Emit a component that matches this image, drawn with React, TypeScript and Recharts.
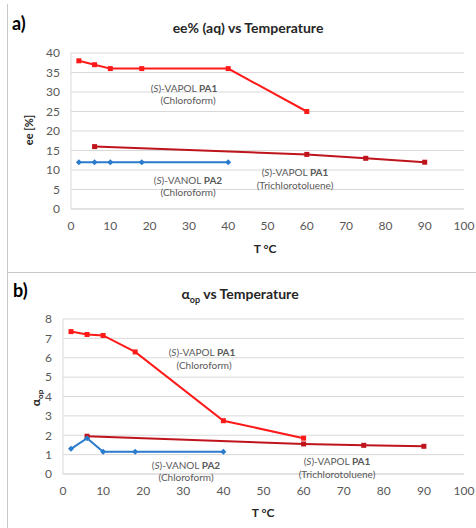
import React from 'react';
import { LineChart, Line, XAxis, YAxis, CartesianGrid } from 'recharts';

// temperatures (°C)
const tVapolChl = [2, 6, 10, 18, 40, 60];
const tVapolTcl = [6, 60, 75, 90];
const tVanolChl = [2, 6, 10, 18, 40];

// a) ee% (aq)
const eeVapolChl = [38, 37, 36, 36, 36, 25];
const eeVapolTcl = [16, 14, 13, 12];
const eeVanolChl = [12, 12, 12, 12, 12];

// b) alpha op
const aVapolChl = [7.35, 7.2, 7.15, 6.3, 2.75, 1.85];
const aVapolTcl = [1.95, 1.55, 1.48, 1.43];
const aVanolChl = [1.3, 1.85, 1.15, 1.15, 1.15];

const xTicks = [0, 10, 20, 30, 40, 50, 60, 70, 80, 90, 100];
const eeTicks = [0, 5, 10, 15, 20, 25, 30, 35, 40];
const alphaTicks = [0, 1, 2, 3, 4, 5, 6, 7, 8];

const RED = '#FF1A1A';
const DARK_RED = '#C0141C';
const BLUE = '#2A7BCB';
const GRID = '#D9D9D9';
const FONT = 'Lato, "Open Sans", sans-serif';

const zip = (xs: number[], ys: number[]) => xs.map((t, i) => ({ t, v: ys[i] }));

const Square = (props: any) => {
  const { cx, cy, fill } = props;
  if (cx == null || cy == null) return null;
  return <rect key={`s-${cx}-${cy}`} x={cx - 2.5} y={cy - 2.5} width={5} height={5} fill={fill} />;
};

const Diamond = (props: any) => {
  const { cx, cy, fill } = props;
  if (cx == null || cy == null) return null;
  return (
    <path
      key={`d-${cx}-${cy}`}
      d={`M${cx},${cy - 3}L${cx + 3},${cy}L${cx},${cy + 3}L${cx - 3},${cy}Z`}
      fill={fill}
    />
  );
};

const tickStyle = { fill: '#595959', fontSize: 12, fontFamily: FONT };

function Note({ x, y, children }: { x: number; y: number; children: React.ReactNode }) {
  return (
    <div
      style={{
        position: 'absolute',
        left: x - 60,
        top: y - 6,
        width: 120,
        textAlign: 'center',
        fontSize: 10,
        lineHeight: '11px',
        color: '#595959',
        fontFamily: FONT,
        whiteSpace: 'nowrap',
      }}
    >
      {children}
    </div>
  );
}

function Panel({
  height,
  marginTop,
  marginLeft,
  marginBottom,
  yTicks,
  yMax,
  chl,
  tcl,
  vanol,
}: any) {
  return (
    <LineChart
      width={476}
      height={height}
      margin={{ top: marginTop, right: 12, left: marginLeft, bottom: marginBottom }}
    >
      <CartesianGrid vertical={false} stroke={GRID} />
      <XAxis
        type="number"
        dataKey="t"
        domain={[0, 100]}
        ticks={xTicks}
        interval={0}
        tickLine={false}
        tickMargin={6}
        axisLine={{ stroke: GRID }}
        tick={tickStyle}
        height={30}
      />
      <YAxis
        type="number"
        dataKey="v"
        domain={[0, yMax]}
        ticks={yTicks}
        interval={0}
        tickLine={false}
        tickMargin={5}
        axisLine={{ stroke: GRID }}
        tick={tickStyle}
        width={30}
      />
      <Line
        data={zip(tVapolChl, chl)}
        dataKey="v"
        type="linear"
        stroke={RED}
        fill={RED}
        strokeWidth={2}
        dot={Square}
        isAnimationActive={false}
      />
      <Line
        data={zip(tVapolTcl, tcl)}
        dataKey="v"
        type="linear"
        stroke={DARK_RED}
        fill={DARK_RED}
        strokeWidth={2}
        dot={Square}
        isAnimationActive={false}
      />
      <Line
        data={zip(tVanolChl, vanol)}
        dataKey="v"
        type="linear"
        stroke={BLUE}
        fill={BLUE}
        strokeWidth={2}
        dot={Diamond}
        isAnimationActive={false}
      />
    </LineChart>
  );
}

const bold: React.CSSProperties = { fontFamily: FONT, fontWeight: 700, color: '#262626' };

export default function App() {
  return (
    <div
      style={{
        position: 'absolute',
        left: 0,
        top: 0,
        width: 476,
        height: 528,
        background: '#fff',
        overflow: 'hidden',
      }}
    >
      {/* panel frames */}
      <div style={{ position: 'absolute', left: 7, top: 4, width: 480, height: 268, borderLeft: '1px solid #C8C8C8', borderBottom: '1px solid #C8C8C8' }} />
      <div style={{ position: 'absolute', left: 7, top: 272, width: 480, height: 270, borderLeft: '1px solid #C8C8C8' }} />

      <div style={{ position: 'absolute', left: 0, top: 0 }}>
        <Panel
          height={272}
          marginTop={53}
          marginLeft={41}
          marginBottom={33}
          yTicks={eeTicks}
          yMax={40}
          chl={eeVapolChl}
          tcl={eeVapolTcl}
          vanol={eeVanolChl}
        />
      </div>
      <div style={{ position: 'absolute', left: 0, top: 272 }}>
        <Panel
          height={256}
          marginTop={47}
          marginLeft={33}
          marginBottom={24}
          yTicks={alphaTicks}
          yMax={8}
          chl={aVapolChl}
          tcl={aVapolTcl}
          vanol={aVanolChl}
        />
      </div>

      {/* panel a texts */}
      <div style={{ ...bold, position: 'absolute', left: 12, top: 12, fontSize: 18, color: '#000' }}>a)</div>
      <div style={{ ...bold, position: 'absolute', left: 48, top: 19, width: 400, textAlign: 'center', fontSize: 14 }}>
        ee% (aq) vs Temperature
      </div>
      <div style={{ ...bold, position: 'absolute', left: 0, top: 123, width: 60, textAlign: 'center', fontSize: 11, transform: 'translate(-1px,0) rotate(-90deg)', transformOrigin: '30px 7px' }}>
        ee [%]
      </div>
      <div style={{ ...bold, position: 'absolute', left: 215, top: 241, width: 100, textAlign: 'center', fontSize: 12 }}>T °C</div>
      <Note x={184} y={89}>(<i>S</i>)-VAPOL <b>PA1</b></Note>
      <Note x={188} y={101}>(Chloroform)</Note>
      <Note x={188} y={181}>(<i>S</i>)-VANOL <b>PA2</b></Note>
      <Note x={188} y={193}>(Chloroform)</Note>
      <Note x={295} y={173}>(<i>S</i>)-VAPOL <b>PA1</b></Note>
      <Note x={295} y={186}>(Trichlorotoluene)</Note>

      {/* panel b texts */}
      <div style={{ ...bold, position: 'absolute', left: 13, top: 279, fontSize: 18, color: '#000' }}>b)</div>
      <div style={{ ...bold, position: 'absolute', left: 40, top: 285, width: 400, textAlign: 'center', fontSize: 14 }}>
        α<sub style={{ fontSize: 9 }}>op</sub> vs Temperature
      </div>
      <div style={{ ...bold, position: 'absolute', left: 5, top: 391, width: 60, textAlign: 'center', fontSize: 12, transform: 'rotate(-90deg)', transformOrigin: '30px 7px' }}>
        α<sub style={{ fontSize: 8 }}>op</sub>
      </div>
      <div style={{ ...bold, position: 'absolute', left: 213, top: 505, width: 100, textAlign: 'center', fontSize: 12 }}>T °C</div>
      <Note x={202} y={353}>(<i>S</i>)-VAPOL <b>PA1</b></Note>
      <Note x={204} y={366}>(Chloroform)</Note>
      <Note x={186} y={466}>(<i>S</i>)-VANOL <b>PA2</b></Note>
      <Note x={186} y={478}>(Chloroform)</Note>
      <Note x={337} y={462}>(<i>S</i>)-VAPOL <b>PA1</b></Note>
      <Note x={337} y={475}>(Trichlorotoluene)</Note>
    </div>
  );
}
